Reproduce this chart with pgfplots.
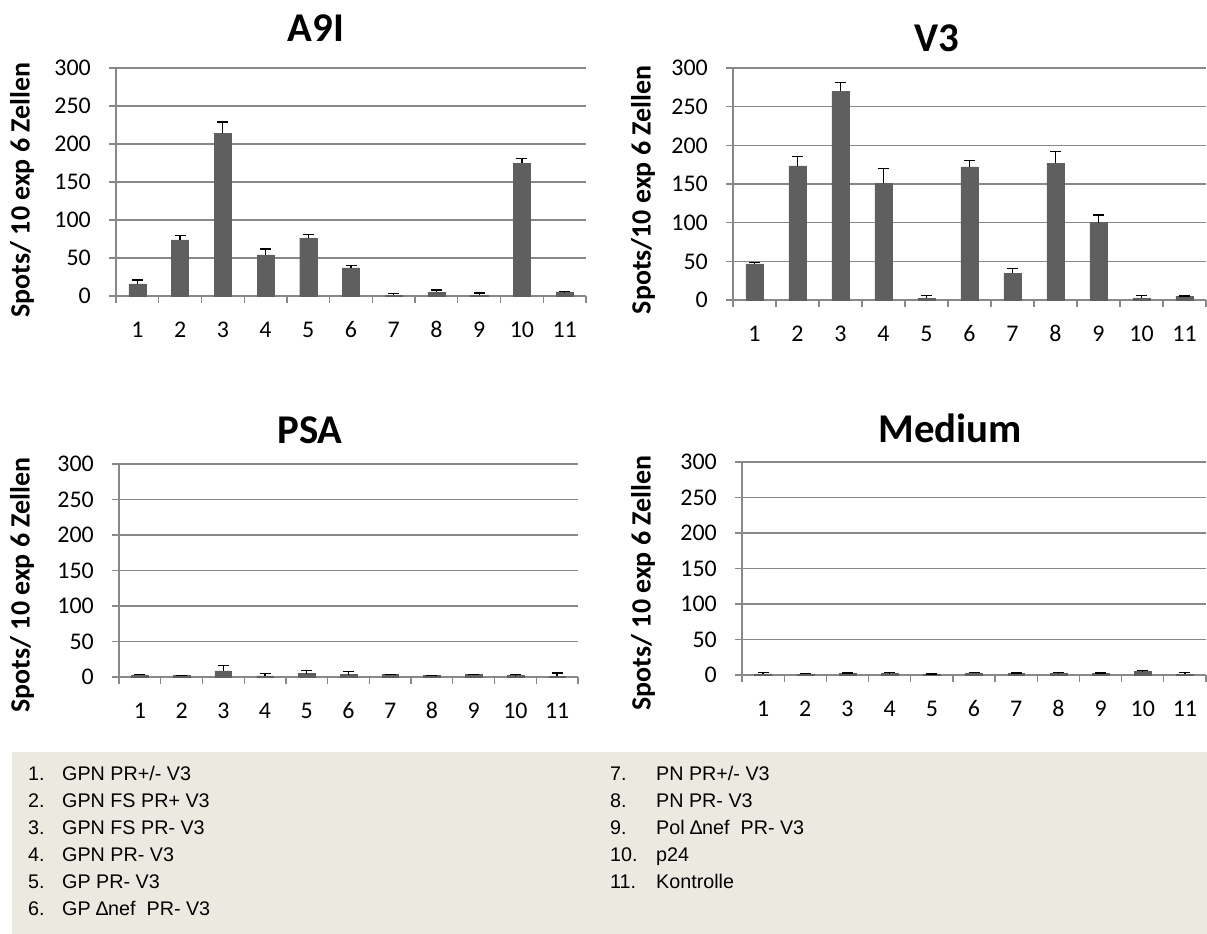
\documentclass[border=0pt]{standalone}
\usepackage{fontspec}
\setmainfont{Carlito}
\newfontfamily\legfont{Liberation Sans}
\usepackage{pgfplots}
\pgfplotsset{compat=1.18}

\definecolor{barc}{HTML}{5F5F5F}
\definecolor{gridc}{HTML}{888888}
\definecolor{boxc}{HTML}{ECE9E0}

\pgfplotsset{
  panel/.style={
    scale only axis, anchor=south west,
    xmin=0.5, xmax=11.5, ymin=0, ymax=300,
    axis x line=bottom, axis y line=left,
    axis line style={-, draw=gridc, line width=1.3bp},
    ytick={0,50,...,300}, ymajorgrids,
    grid style={gridc, line width=1.3bp},
    xtick={0.5,1.5,...,11.5}, xticklabels={},
    extra x ticks={1,...,11},
    extra x tick labels={1,2,3,4,5,6,7,8,9,10,11},
    extra x tick style={major tick length=0pt},
    tick align=outside, major tick length=7bp,
    tick style={draw=gridc, line width=1.3bp},
    tick label style={font=\fontsize{24}{24}\selectfont},
    /pgf/number format/assume math mode=true,
    xticklabel style={anchor=base, inner sep=0pt, yshift=-41bp},
    yticklabel style={anchor=east, inner sep=0pt, xshift=-18bp},
    ybar, bar width=0.4,
    clip=false,
  },
  bars/.style={
    fill=barc, draw=barc,
    error bars/.cd, y dir=plus, y explicit,
    error bar style={black, line width=1.3bp},
    error mark options={rotate=90, black, mark size=5.5bp, line width=1.3bp},
  },
}

\newcommand{\ptitle}[1]{{\fontsize{41}{41}\selectfont\bfseries #1}}
\newcommand{\ylab}{{\fontsize{28}{28}\selectfont\bfseries Spots/ 10 exp 6 Zellen}}
\newcommand{\ylabb}{{\fontsize{28}{28}\selectfont\bfseries Spots/10 exp 6 Zellen}}

\begin{document}
\begin{tikzpicture}[x=1bp,y=1bp]
\path[use as bounding box] (0,0) rectangle (1207,-934);

% A9I
\begin{axis}[panel, at={(116bp,-296bp)}, width=470bp, height=228bp]
\addplot[bars] coordinates {
 (1,16) +- (0,5)
 (2,74) +- (0,6)
 (3,214) +- (0,15)
 (4,54) +- (0,8)
 (5,76) +- (0,5)
 (6,37) +- (0,3)
 (7,1) +- (0,2)
 (8,5) +- (0,3)
 (9,1) +- (0,3)
 (10,175) +- (0,6)
 (11,4.4) +- (0,1.5)
};
\end{axis}

% V3
\begin{axis}[panel, at={(733bp,-300bp)}, width=473bp, height=232bp]
\addplot[bars] coordinates {
 (1,46.6) +- (0,2)
 (2,173.5) +- (0,12)
 (3,270) +- (0,11)
 (4,151) +- (0,19)
 (5,2) +- (0,3.5)
 (6,172) +- (0,8)
 (7,34.5) +- (0,6.5)
 (8,177) +- (0,15)
 (9,100) +- (0,10)
 (10,2) +- (0,4)
 (11,4.3) +- (0,1)
};
\end{axis}

% PSA
\begin{axis}[panel, at={(119bp,-677bp)}, width=459bp, height=213bp]
\addplot[bars] coordinates {
 (1,3) +- (0,1)
 (2,2) +- (0,0.5)
 (3,8.5) +- (0,8)
 (4,1.5) +- (0,3)
 (5,4.7) +- (0,4)
 (6,3.3) +- (0,4)
 (7,3.3) +- (0,0.5)
 (8,2) +- (0,0.3)
 (9,3.3) +- (0,0.5)
 (10,2.3) +- (0,0.8)
 (11,1) +- (0,4.6)
};
\end{axis}

% Medium
\begin{axis}[panel, at={(742bp,-675bp)}, width=464bp, height=213bp]
\addplot[bars] coordinates {
 (1,1.5) +- (0,2)
 (2,1) +- (0,1.3)
 (3,2) +- (0,1)
 (4,2) +- (0,2)
 (5,1) +- (0,0.3)
 (6,2.8) +- (0,1)
 (7,2.3) +- (0,0.5)
 (8,2.3) +- (0,1)
 (9,2) +- (0,1)
 (10,4.7) +- (0,1.5)
 (11,1) +- (0,3)
};
\end{axis}

% titles
\node at (316,-28) {\ptitle{A9I}};
\node at (937,-38) {\ptitle{V3}};
\node at (310,-430) {\ptitle{PSA}};
\node at (950,-428) {\ptitle{Medium}};

% y labels
\node[rotate=90] at (22,-190) {\ylab};
\node[rotate=90] at (643,-190) {\ylabb};
\node[rotate=90] at (22,-585) {\ylab};
\node[rotate=90] at (643,-583) {\ylab};

% legend box
\fill[boxc] (12,-752) rectangle (1207,-934);
\begin{scope}[every node/.style={anchor=base west, inner sep=0pt, font=\legfont\fontsize{19.8}{19.8}\selectfont}]
\foreach \i/\t [count=\k from 0] in {1./{GPN PR+/- V3}, 2./{GPN FS PR+ V3}, 3./{GPN FS PR- V3}, 4./{GPN PR- V3}, 5./{GP PR- V3}, 6./{GP ∆nef\ \ PR- V3}}{
  \node at (28,-780-27*\k) {\i};
  \node at (62,-780-27*\k) {\t};
}
\foreach \i/\t [count=\k from 0] in {7./{PN PR+/- V3}, 8./{PN PR- V3}, 9./{Pol ∆nef\ \ PR- V3}, 10./{p24}, 11./{Kontrolle}}{
  \node at (610,-780-27*\k) {\i};
  \node at (656,-780-27*\k) {\t};
}
\end{scope}
\end{tikzpicture}
\end{document}
